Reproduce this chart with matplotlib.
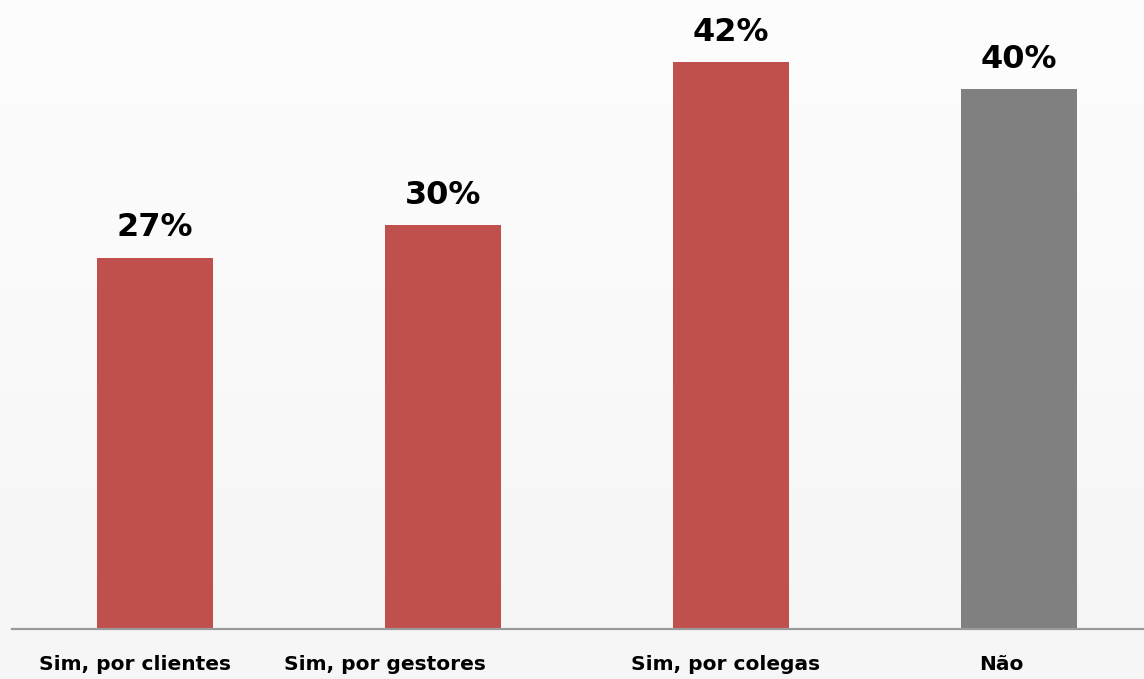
import numpy as np
import matplotlib.pyplot as plt
from matplotlib.colors import LinearSegmentedColormap
from matplotlib.transforms import blended_transform_factory

categories = ['Sim, por clientes', 'Sim, por gestores', 'Sim, por colegas', 'Não']
values = [27.5, 29.9, 42, 40]          # bar heights as drawn in the slide
pct_labels = ['27%', '30%', '42%', '40%']
bar_colors = ['#C0504D', '#C0504D', '#C0504D', '#808080']
# small horizontal shifts of the category labels, as in the original slide
label_shift = [-0.07, -0.20, -0.02, -0.06]

fig = plt.figure(figsize=(11.44, 6.79), dpi=100)

# soft background gradient like the slide
bg = fig.add_axes([0, 0, 1, 1])
grad = np.linspace(0, 1, 256).reshape(-1, 1)
bg.imshow(grad, aspect='auto', cmap=LinearSegmentedColormap.from_list('bg', ['#F6F6F6', '#FDFDFD']),
          origin='lower', extent=[0, 1, 0, 1])
bg.axis('off')

ax = fig.add_axes([12 / 1144, 50 / 679, 1 - 12 / 1144, 629 / 679])
ax.patch.set_alpha(0)

x = np.arange(len(categories))
bars = ax.bar(x, values, width=0.403, color=bar_colors, zorder=2)

for b, v, t in zip(bars, values, pct_labels):
    ax.annotate(t, (b.get_x() + b.get_width() / 2, v),
                xytext=(0, 10.5), textcoords='offset points',
                ha='center', va='bottom', fontsize=23, fontweight='bold', color='black')

ax.set_xlim(-0.4965, 3.434)
ax.set_ylim(0, 46.6)

trans = blended_transform_factory(ax.transData, ax.transAxes)
for i, lab in enumerate(categories):
    ax.text(i + label_shift[i], -0.057, lab, transform=trans, ha='center', va='center',
            fontsize=14.5, fontweight='bold', color='black')

for s in ['top', 'right', 'left']:
    ax.spines[s].set_visible(False)
ax.spines['bottom'].set_color('#9A9A9A')
ax.spines['bottom'].set_linewidth(1.6)
ax.set_xticks([])
ax.set_yticks([])

fig.savefig('out.png', dpi=100)
